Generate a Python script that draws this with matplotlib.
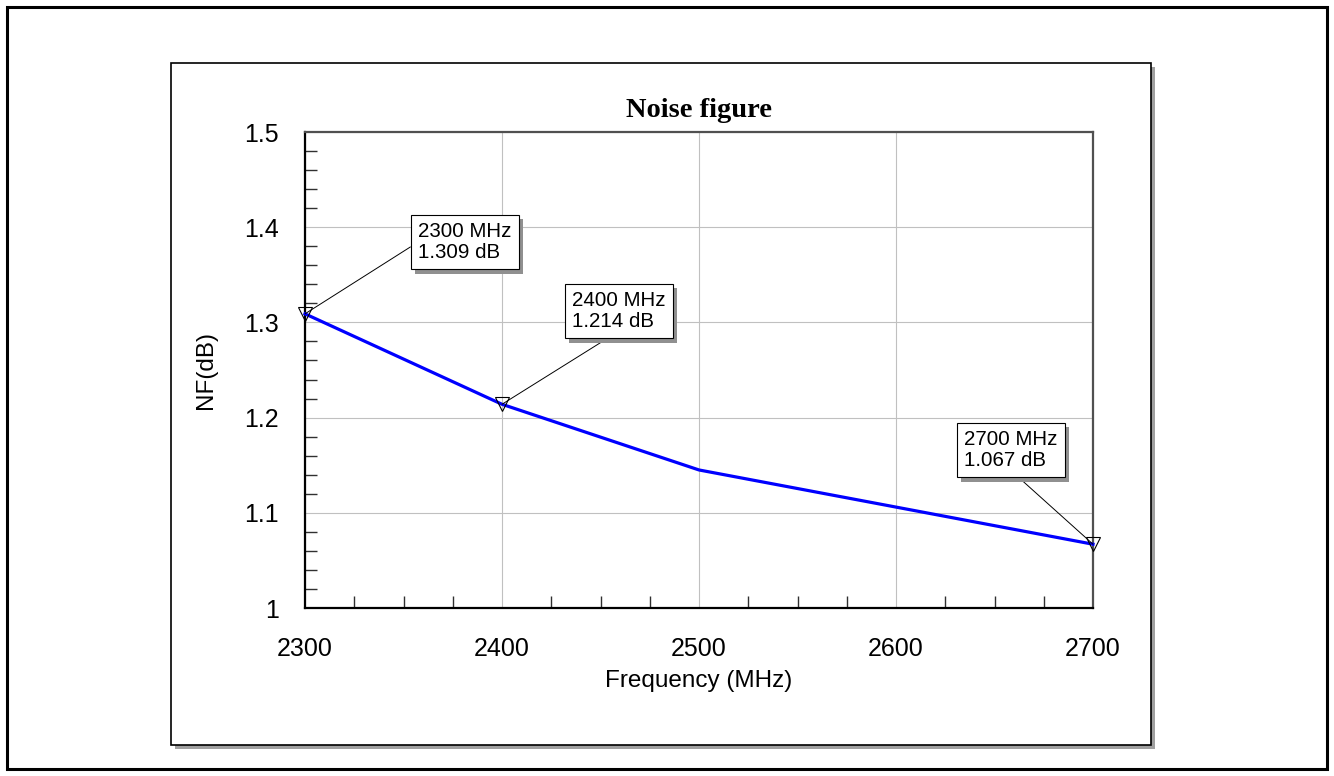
import matplotlib
matplotlib.use("Agg")
import matplotlib.pyplot as plt
from matplotlib.patches import Rectangle
from matplotlib.ticker import MultipleLocator, FixedLocator
import matplotlib.patheffects as pe

# ---- data ----
freq = [2300, 2400, 2500, 2600, 2700]
nf = [1.309, 1.214, 1.145, 1.106, 1.067]
marker_freq = [2300, 2400, 2700]
marker_nf = [1.309, 1.214, 1.067]
marker_labels = ["2300 MHz\n1.309 dB", "2400 MHz\n1.214 dB", "2700 MHz\n1.067 dB"]
xticks = [2300, 2400, 2500, 2600, 2700]
yticks = [1.0, 1.1, 1.2, 1.3, 1.4, 1.5]
ytick_labels = ["1", "1.1", "1.2", "1.3", "1.4", "1.5"]
title = "Noise figure"
xlabel = "Frequency (MHz)"
ylabel = "NF(dB)"

W, H = 1334, 776
fig = plt.figure(figsize=(W / 100, H / 100), dpi=100)
plt.rcParams['font.family'] = ['Liberation Sans', 'DejaVu Sans']

def fx(px):
    return px / W

def fy(py):
    return 1 - py / H

# outer border
fig.add_artist(Rectangle((fx(7), fy(769)), fx(1320), (762) / H, transform=fig.transFigure,
                         fill=False, ec='black', lw=2.2, zorder=-3))
# panel shadow + panel
fig.add_artist(Rectangle((fx(175), fy(749)), fx(980), 682 / H, transform=fig.transFigure,
                         fc='#a0a0a0', ec='none', zorder=-2))
fig.add_artist(Rectangle((fx(171), fy(745)), fx(980), 682 / H, transform=fig.transFigure,
                         fc='white', ec='black', lw=1.2, zorder=-1))

ax = fig.add_axes([fx(305), fy(608), (1093 - 305) / W, (608 - 132) / H])
ax.set_facecolor('none')
ax.set_xlim(2300, 2700)
ax.set_ylim(1.0, 1.5)
ax.set_axisbelow(True)

ax.xaxis.set_major_locator(FixedLocator(xticks))
ax.yaxis.set_major_locator(FixedLocator(yticks))
ax.set_yticklabels(ytick_labels)
ax.xaxis.set_minor_locator(MultipleLocator(25))
ax.yaxis.set_minor_locator(MultipleLocator(0.02))
ax.grid(True, which='major', color='#c0c0c0', lw=0.8)
ax.tick_params(which='major', length=0, labelsize=18)
ax.tick_params(axis='x', which='major', pad=21)
ax.tick_params(axis='y', which='major', pad=19)
ax.tick_params(which='minor', direction='in', length=8.5, width=1.0, color='#303030')

for s in ['left', 'bottom']:
    ax.spines[s].set_color('black')
    ax.spines[s].set_linewidth(1.6)
for s in ['top', 'right']:
    ax.spines[s].set_color('#505050')
    ax.spines[s].set_linewidth(1.6)

ax.plot(freq, nf, color='#0000ff', lw=2.3, zorder=3, clip_on=False)
ax.plot(marker_freq, marker_nf, linestyle='none', marker='v', markersize=10.5,
        mfc='none', mec='black', mew=0.8, zorder=4, clip_on=False)

# annotation box top-left positions (px)
box_pos = [(411, 215), (565, 284), (957, 423)]
relpos = [(0.0, 0.5), (0.5, 0.0), (0.5, 0.0)]
pad_px = 7
for (bx, by), lab, x, y, rp in zip(box_pos, marker_labels, marker_freq, marker_nf, relpos):
    t = ax.annotate(lab, xy=(x, y), xycoords='data',
                    xytext=(bx + pad_px, H - (by + pad_px)), textcoords='figure pixels',
                    ha='left', va='top', fontsize=14.8, color='black', linespacing=1.15,
                    bbox=dict(boxstyle='square,pad=0.35', fc='white', ec='black', lw=0.8),
                    arrowprops=dict(arrowstyle='-', color='black', lw=0.7, relpos=rp,
                                    shrinkA=0, shrinkB=0),
                    zorder=6, annotation_clip=False)
    t.get_bbox_patch().set_path_effects([
        pe.SimplePatchShadow(offset=(3, -3), shadow_rgbFace='#909090', alpha=1.0),
        pe.Normal()])

fig.text(fx(699), fy(117), title, ha='center', va='baseline', fontsize=20.5,
         fontweight='bold', family=['Liberation Serif', 'DejaVu Serif'])
fig.text(fx(699), fy(681), xlabel, ha='center', va='center', fontsize=17.5)
fig.text(fx(206), fy(370), ylabel, ha='center', va='center', fontsize=17.5, rotation=90)

fig.savefig("out.png", dpi=100)
